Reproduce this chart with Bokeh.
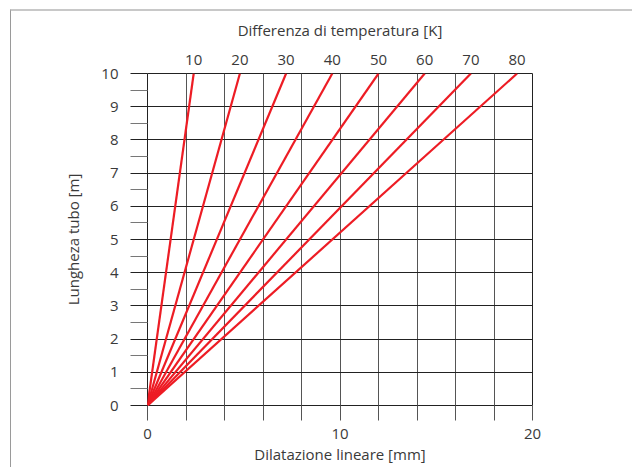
from bokeh.plotting import figure
from bokeh.models import LinearAxis, FixedTicker, Range1d
from bokeh.embed import file_html
from bokeh.resources import INLINE

# Data
temperature_diff_K = [10, 20, 30, 40, 50, 60, 70, 80]
dilatation_at_10m_mm = [2.4, 4.8, 7.2, 9.6, 12.0, 14.4, 16.8, 19.2]
pipe_length_m = [0, 10]
dilatation_origin_mm = 0
x_ticks = [0, 2, 4, 6, 8, 10, 12, 14, 16, 18, 20]
x_labelled = [0, 10, 20]
y_ticks = [0, 1, 2, 3, 4, 5, 6, 7, 8, 9, 10]
y_minor = [0.5, 1.5, 2.5, 3.5, 4.5, 5.5, 6.5, 7.5, 8.5, 9.5]

FONT = "Open Sans"
TXT = "#3a3a3a"
RED = "#ed1c24"

p = figure(frame_width=385, frame_height=332,
           x_range=Range1d(0, 20), y_range=Range1d(0, 10),
           output_backend="svg", toolbar_location=None,
           min_border_left=136, min_border_right=100,
           min_border_top=62, min_border_bottom=62,
           x_axis_label="Dilatazione lineare [mm]",
           y_axis_label="Lungheza tubo [m]")
p.styles = {"margin-top": "9px", "margin-left": "10px",
            "border-top": "2px solid #c8c8c8", "border-left": "1px solid #9a9a9a"}

p.outline_line_color = "#222222"
p.outline_line_width = 1

# grids
p.xgrid.ticker = FixedTicker(ticks=x_ticks)
p.ygrid.ticker = FixedTicker(ticks=y_ticks)
p.xgrid.grid_line_color = "#555555"
p.ygrid.grid_line_color = "#222222"
p.xgrid.grid_line_width = 1
p.ygrid.grid_line_width = 1
p.xgrid.grid_line_alpha = 1
p.ygrid.grid_line_alpha = 1

# bottom axis
xa = p.xaxis[0]
xa.ticker = FixedTicker(ticks=x_ticks)
xa.major_label_overrides = {t: ("" if t not in x_labelled else str(t)) for t in x_ticks}
xa.axis_line_color = None
xa.major_tick_out = 15
xa.major_tick_in = 0
xa.major_tick_line_color = "#555555"
xa.minor_tick_line_color = None
xa.major_label_standoff = 8
xa.axis_label_standoff = 2
xa.major_label_text_font = FONT
xa.major_label_text_font_size = "15px"
xa.major_label_text_color = TXT
xa.axis_label_text_font = FONT
xa.axis_label_text_font_size = "15px"
xa.axis_label_text_font_style = "normal"
xa.axis_label_text_color = TXT

# left axis
ya = p.yaxis[0]
ya.ticker = FixedTicker(ticks=y_ticks, minor_ticks=y_minor)
ya.axis_line_color = None
ya.major_tick_out = 17
ya.major_tick_in = 0
ya.minor_tick_out = 17
ya.minor_tick_in = 0
ya.major_tick_line_color = "#222222"
ya.minor_tick_line_color = "#777777"
ya.major_label_standoff = 12
ya.axis_label_standoff = 15
ya.major_label_text_font = FONT
ya.major_label_text_font_size = "15px"
ya.major_label_text_color = TXT
ya.axis_label_text_font = FONT
ya.axis_label_text_font_size = "15px"
ya.axis_label_text_font_style = "normal"
ya.axis_label_text_color = TXT

# top axis (temperature difference)
top = LinearAxis(ticker=FixedTicker(ticks=dilatation_at_10m_mm),
                 axis_label="Differenza di temperatura [K]")
top.major_label_overrides = {d: str(t) for d, t in zip(dilatation_at_10m_mm, temperature_diff_K)}
top.axis_line_color = None
top.major_tick_line_color = None
top.minor_tick_line_color = None
top.major_tick_out = 0
top.major_tick_in = 0
top.major_label_standoff = 9
top.axis_label_standoff = 12
top.major_label_text_font = FONT
top.major_label_text_font_size = "15px"
top.major_label_text_color = TXT
top.axis_label_text_font = FONT
top.axis_label_text_font_size = "15px"
top.axis_label_text_font_style = "normal"
top.axis_label_text_color = TXT
p.add_layout(top, "above")

# red lines
xs = [[dilatation_origin_mm, d] for d in dilatation_at_10m_mm]
ys = [list(pipe_length_m) for _ in dilatation_at_10m_mm]
p.multi_line(xs, ys, line_color=RED, line_width=2.2)

open("out.html", "w").write(file_html(p, INLINE))
